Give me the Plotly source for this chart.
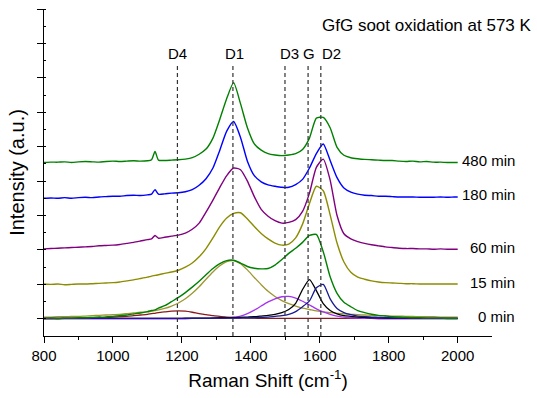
import plotly.graph_objects as go

# Raman shift grid (cm^-1)
wavenumber = [800, 820, 840, 860, 880, 900, 920, 940, 960, 980,
              1000, 1020, 1040, 1060, 1080, 1100, 1112, 1122, 1132, 1150,
              1170, 1190, 1210, 1230, 1250, 1270, 1290, 1310, 1330, 1350,
              1370, 1390, 1410, 1430, 1450, 1470, 1490, 1510, 1530, 1550,
              1570, 1590, 1610, 1630, 1650, 1670, 1690, 1710, 1730, 1750,
              1770, 1790, 1810, 1830, 1850, 1870, 1890, 1910, 1930, 1950,
              1970, 1990, 2000]

# stacked spectra (offset intensities, a.u.)
spec_480 = [4.54, 4.55, 4.55, 4.56, 4.54, 4.56, 4.57, 4.56, 4.55, 4.57,
            4.58, 4.57, 4.58, 4.59, 4.58, 4.59, 4.62, 4.86, 4.61, 4.60,
            4.61, 4.62, 4.64, 4.68, 4.78, 4.93, 5.25, 5.80, 6.40, 6.86,
            6.25, 5.55, 5.08, 4.90, 4.80, 4.76, 4.74, 4.76, 4.80, 4.92,
            5.25, 5.83, 5.85, 5.55, 4.98, 4.75, 4.68, 4.65, 4.63, 4.62,
            4.61, 4.60, 4.60, 4.58, 4.57, 4.58, 4.56, 4.57, 4.55, 4.55,
            4.54, 4.54, 4.54]
spec_180 = [3.50, 3.51, 3.50, 3.52, 3.50, 3.52, 3.53, 3.52, 3.54, 3.55,
            3.56, 3.56, 3.58, 3.59, 3.58, 3.60, 3.62, 3.75, 3.62, 3.63,
            3.65, 3.66, 3.69, 3.75, 3.88, 4.07, 4.38, 4.90, 5.45, 5.73,
            5.27, 4.58, 4.16, 3.98, 3.89, 3.85, 3.82, 3.82, 3.90, 4.05,
            4.38, 4.80, 5.08, 4.60, 4.10, 3.80, 3.68, 3.62, 3.59, 3.58,
            3.56, 3.56, 3.55, 3.54, 3.54, 3.54, 3.53, 3.53, 3.53, 3.54,
            3.53, 3.54, 3.54]
spec_60 = [2.03, 2.04, 2.05, 2.06, 2.07, 2.08, 2.09, 2.10, 2.12, 2.13,
           2.14, 2.16, 2.19, 2.22, 2.26, 2.30, 2.32, 2.42, 2.34, 2.37,
           2.40, 2.43, 2.49, 2.60, 2.78, 3.10, 3.45, 3.82, 4.16, 4.38,
           4.33, 4.00, 3.55, 3.18, 2.98, 2.85, 2.78, 2.80, 2.88, 3.12,
           3.65, 4.40, 4.64, 4.03, 3.00, 2.47, 2.32, 2.24, 2.19, 2.15,
           2.12, 2.09, 2.07, 2.05, 2.04, 2.04, 2.03, 2.03, 2.02, 2.03,
           2.02, 2.02, 2.02]
spec_15 = [1.01, 1.00, 1.01, 0.99, 1.00, 1.01, 1.01, 1.02, 1.03, 1.04,
           1.05, 1.07, 1.10, 1.13, 1.17, 1.21, 1.24, 1.26, 1.28, 1.32,
           1.36, 1.41, 1.50, 1.62, 1.80, 2.04, 2.35, 2.68, 2.93, 3.06,
           3.08, 2.90, 2.68, 2.48, 2.32, 2.20, 2.14, 2.17, 2.35, 2.75,
           3.35, 3.85, 3.72, 3.02, 2.20, 1.65, 1.35, 1.21, 1.15, 1.10,
           1.07, 1.05, 1.04, 1.03, 1.02, 1.02, 1.01, 1.01, 1.01, 1.01,
           1.01, 1.01, 1.01]
spec_0 = [0.01, 0.02, 0.01, 0.02, 0.02, 0.03, 0.03, 0.04, 0.05, 0.05,
          0.07, 0.09, 0.11, 0.14, 0.17, 0.21, 0.24, 0.26, 0.31, 0.38,
          0.50, 0.62, 0.76, 0.92, 1.09, 1.28, 1.46, 1.60, 1.69, 1.70,
          1.62, 1.52, 1.47, 1.45, 1.46, 1.56, 1.72, 1.90, 2.05, 2.22,
          2.42, 2.45, 1.95, 1.22, 0.74, 0.48, 0.35, 0.24, 0.18, 0.13,
          0.10, 0.08, 0.06, 0.05, 0.04, 0.03, 0.03, 0.02, 0.02, 0.02,
          0.01, 0.01, 0.01]

# fitted bands of the 0 min spectrum
fit_d4 = [0.00, 0.00, 0.00, 0.01, 0.01, 0.01, 0.02, 0.02, 0.03, 0.04,
          0.05, 0.06, 0.07, 0.09, 0.11, 0.13, 0.15, 0.16, 0.18, 0.20,
          0.22, 0.23, 0.22, 0.19, 0.15, 0.12, 0.09, 0.07, 0.05, 0.04,
          0.03, 0.02, 0.02, 0.01, 0.01, 0.01, 0.01, 0.01, 0.01, 0.01,
          0.01, 0.01, 0.01, 0.01, 0.01, 0.01, 0.01, 0.01, 0.01, 0.01,
          0.01, 0.01, 0.01, 0.01, 0.01, 0.01, 0.01, 0.01, 0.01, 0.01,
          0.01, 0.01, 0.01]
fit_d1 = [0.05, 0.05, 0.06, 0.06, 0.07, 0.07, 0.08, 0.09, 0.10, 0.11,
          0.12, 0.13, 0.15, 0.17, 0.19, 0.20, 0.22, 0.24, 0.26, 0.30,
          0.37, 0.46, 0.58, 0.74, 0.93, 1.15, 1.36, 1.54, 1.66, 1.69,
          1.60, 1.42, 1.20, 0.99, 0.80, 0.65, 0.53, 0.44, 0.37, 0.31,
          0.27, 0.23, 0.20, 0.18, 0.16, 0.14, 0.13, 0.12, 0.11, 0.10,
          0.09, 0.09, 0.08, 0.08, 0.07, 0.07, 0.06, 0.06, 0.06, 0.05,
          0.05, 0.05, 0.05]
fit_d3 = [0.00, 0.00, 0.00, 0.00, 0.00, 0.00, 0.00, 0.00, 0.00, 0.00,
          0.00, 0.00, 0.00, 0.00, 0.00, 0.00, 0.00, 0.00, 0.00, 0.00,
          0.00, 0.00, 0.00, 0.01, 0.01, 0.01, 0.02, 0.02, 0.03, 0.05,
          0.08, 0.15, 0.25, 0.37, 0.49, 0.58, 0.64, 0.65, 0.60, 0.51,
          0.40, 0.29, 0.20, 0.13, 0.08, 0.05, 0.03, 0.02, 0.01, 0.01,
          0.00, 0.00, 0.00, 0.00, 0.00, 0.00, 0.00, 0.00, 0.00, 0.00,
          0.00, 0.00, 0.00]
fit_g = [0.01, 0.01, 0.01, 0.01, 0.01, 0.01, 0.01, 0.01, 0.01, 0.01,
         0.01, 0.01, 0.01, 0.01, 0.01, 0.01, 0.01, 0.01, 0.01, 0.01,
         0.01, 0.01, 0.02, 0.02, 0.02, 0.02, 0.02, 0.03, 0.03, 0.03,
         0.04, 0.05, 0.06, 0.08, 0.10, 0.13, 0.18, 0.27, 0.45, 0.85,
         1.14, 0.82, 0.44, 0.24, 0.14, 0.09, 0.07, 0.05, 0.04, 0.03,
         0.03, 0.02, 0.02, 0.02, 0.02, 0.01, 0.01, 0.01, 0.01, 0.01,
         0.01, 0.01, 0.01]
fit_d2 = [0.01, 0.01, 0.01, 0.01, 0.01, 0.01, 0.01, 0.01, 0.01, 0.01,
          0.01, 0.01, 0.01, 0.01, 0.01, 0.01, 0.01, 0.01, 0.01, 0.01,
          0.01, 0.01, 0.01, 0.01, 0.01, 0.01, 0.02, 0.02, 0.02, 0.02,
          0.02, 0.03, 0.03, 0.04, 0.05, 0.07, 0.09, 0.13, 0.21, 0.35,
          0.52, 0.90, 1.00, 0.58, 0.30, 0.18, 0.12, 0.08, 0.06, 0.05,
          0.04, 0.03, 0.03, 0.02, 0.02, 0.02, 0.02, 0.01, 0.01, 0.01,
          0.01, 0.01, 0.01]

spec_labels = ["480 min", "180 min", "60 min", "15 min", "0 min"]
band_names = ["D4", "D1", "D3", "G", "D2"]
band_positions = [1187, 1348, 1499, 1566, 1603]
title_text = "GfG soot oxidation at 573 K"

FONT = "Liberation Sans, Arial, sans-serif"

fig = go.Figure()

fits = [(fit_d4, "#8B1A1A"), (fit_d1, "#9E9630"), (fit_d3, "#A633F2"),
        (fit_g, "#000000"), (fit_d2, "#1A1A90")]
for ys, col in fits:
    fig.add_trace(go.Scatter(x=wavenumber, y=ys, mode="lines",
                             line=dict(color=col, width=1.3, shape="spline", smoothing=0.6),
                             hoverinfo="skip", showlegend=False))

spectra = [(spec_480, "#008000"), (spec_180, "#0000FF"), (spec_60, "#800080"),
           (spec_15, "#8C8C00"), (spec_0, "#008000")]
for (ys, col), lab in zip(spectra, spec_labels):
    fig.add_trace(go.Scatter(x=wavenumber, y=ys, mode="lines",
                             line=dict(color=col, width=1.4, shape="spline", smoothing=0.6),
                             hoverinfo="skip", showlegend=False))
    fig.add_annotation(x=1.056, xref="paper", y=ys[-1], yref="y", text=lab,
                       showarrow=False, xanchor="right", yanchor="middle", yshift=2,
                       font=dict(family=FONT, size=15, color="black"))

label_shift = {"D4": 0, "D1": 2, "D3": 5, "G": 1, "D2": 11}
for name, pos in zip(band_names, band_positions):
    fig.add_shape(type="line", x0=pos, x1=pos, y0=-0.5, y1=7.42, xref="x", yref="y",
                  line=dict(color="#333333", width=1.2, dash="4px,3px"), layer="above")
    fig.add_annotation(x=pos, y=7.72, xref="x", yref="y", text=name, showarrow=False,
                       xanchor="center", yanchor="middle", xshift=label_shift[name],
                       font=dict(family=FONT, size=15, color="black"))

fig.add_annotation(x=1.094, xref="paper", y=0.951, yref="paper", text=title_text,
                   showarrow=False, xanchor="right", yanchor="middle",
                   font=dict(family=FONT, size=17, color="black"))

fig.update_layout(
    width=537, height=398,
    margin=dict(l=44, r=45, t=9, b=62),
    paper_bgcolor="white", plot_bgcolor="white",
    font=dict(family=FONT, color="black"),
    hovermode=False,
)
fig.update_xaxes(
    range=[800, 2099.5], tick0=800, dtick=200,
    ticks="outside", ticklen=6, tickwidth=1.2, tickcolor="black",
    minor=dict(dtick=100, ticks="outside", ticklen=3, tickcolor="black", tickwidth=1.2),
    showline=True, linecolor="black", linewidth=1.3, showgrid=False, zeroline=False,
    tickfont=dict(family=FONT, size=15, color="black"),
    title=dict(text="Raman Shift (cm<sup>-1</sup>)", font=dict(family=FONT, size=19, color="black"),
               standoff=10),
)
fig.update_yaxes(
    range=[-0.5, 9], tick0=0, dtick=1, showticklabels=False,
    ticks="outside", ticklen=6, tickwidth=1.2, tickcolor="black",
    minor=dict(dtick=0.5, ticks="inside", ticklen=2, tickcolor="black", tickwidth=1.2),
    showline=True, linecolor="black", linewidth=1.3, showgrid=False, zeroline=False,
    title=dict(text="Intensity (a.u.)", font=dict(family=FONT, size=20, color="black"),
               standoff=6),
)

fig.write_html("out.html")
